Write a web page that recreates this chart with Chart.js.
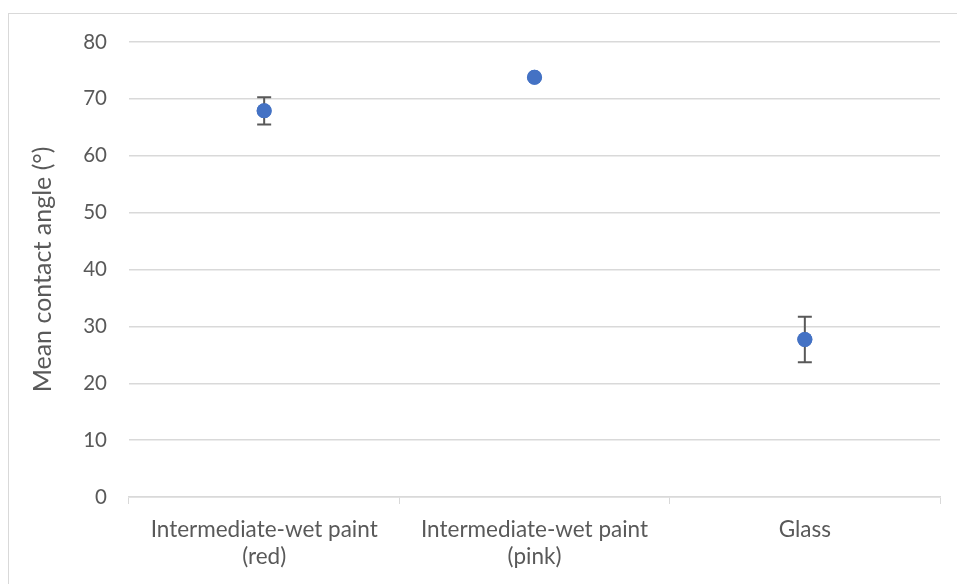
<!DOCTYPE html>
<html>
<head>
<meta charset="utf-8">
<script src="https://cdn.jsdelivr.net/npm/chart.js@4"></script>
<style>
  body { margin: 0; background: #fff; }
  #wrap { position: relative; width: 957px; height: 584px; overflow: hidden; }
  #frame { position: absolute; left: 8px; top: 13px; width: 1200px; height: 1200px; border: 1px solid #d9d9d9; box-sizing: border-box; }
  canvas { position: absolute; left: 0; top: 0; }
</style>
</head>
<body>
<div id="wrap">
  <div id="frame"></div>
  <canvas id="myChart" width="957" height="584"></canvas>
</div>
<script>
'use strict';

let categories = [['Intermediate-wet paint', '(red)'], ['Intermediate-wet paint', '(pink)'], 'Glass'];
let angles = [67.9, 73.8, 27.7];
let errors = [2.4, 0, 4.0];
let yTitle = 'Mean contact angle (°)';

let textColor = '#595959';
let gridColor = '#d9d9d9';
let fontFamily = "Lato, 'Open Sans', sans-serif";

// draws the error bars from the errors array using the chart's scales
let errorBars = {
  id: 'errorBars',
  afterDatasetsDraw(chart) {
    let ctx = chart.ctx;
    let xs = chart.scales.x;
    let ys = chart.scales.y;
    ctx.save();
    ctx.strokeStyle = '#595959';
    ctx.lineWidth = 2;
    for (let i = 0; i < angles.length; i++) {
      if (!errors[i]) continue;
      let x = xs.getPixelForValue(i);
      let top = ys.getPixelForValue(angles[i] + errors[i]);
      let bottom = ys.getPixelForValue(angles[i] - errors[i]);
      ctx.beginPath();
      ctx.moveTo(x, top);
      ctx.lineTo(x, bottom);
      ctx.moveTo(x - 7, top);
      ctx.lineTo(x + 7, top);
      ctx.moveTo(x - 7, bottom);
      ctx.lineTo(x + 7, bottom);
      ctx.stroke();
    }
    ctx.restore();
    // redraw the points on top of the bars
    chart.getDatasetMeta(0).controller.draw();
  }
};

let ctx = document.getElementById('myChart').getContext('2d');
let myChart = new Chart(ctx, {
  type: 'line',
  data: {
    labels: categories,
    datasets: [{
      data: angles,
      showLine: false,
      pointRadius: 7.5,
      pointHoverRadius: 7.5,
      pointBackgroundColor: '#4472C4',
      pointBorderColor: '#4472C4',
      pointBorderWidth: 0
    }]
  },
  options: {
    responsive: false,
    animation: false,
    layout: { padding: { left: 28, right: 17, top: 42, bottom: 2 } },
    plugins: {
      legend: { display: false },
      tooltip: { enabled: false }
    },
    scales: {
      x: {
        offset: true,
        grid: {
          offset: true,
          drawOnChartArea: false,
          color: gridColor,
          tickLength: 7
        },
        border: { color: gridColor, width: 1.5 },
        ticks: {
          color: textColor,
          font: { family: fontFamily, size: 22.5, lineHeight: 1.2 },
          padding: 12,
          maxRotation: 0
        }
      },
      y: {
        min: 0,
        max: 80,
        ticks: {
          stepSize: 10,
          color: textColor,
          font: { family: fontFamily, size: 20.5 },
          padding: 22
        },
        grid: { color: gridColor, lineWidth: 1.5, drawTicks: false },
        border: { display: false },
        title: {
          display: true,
          text: yTitle,
          color: textColor,
          font: { family: fontFamily, size: 25 },
          padding: { top: 0, bottom: 6 }
        },
        afterFit(scale) { scale.width = 101; }
      }
    }
  },
  plugins: [errorBars]
});
</script>
</body>
</html>
